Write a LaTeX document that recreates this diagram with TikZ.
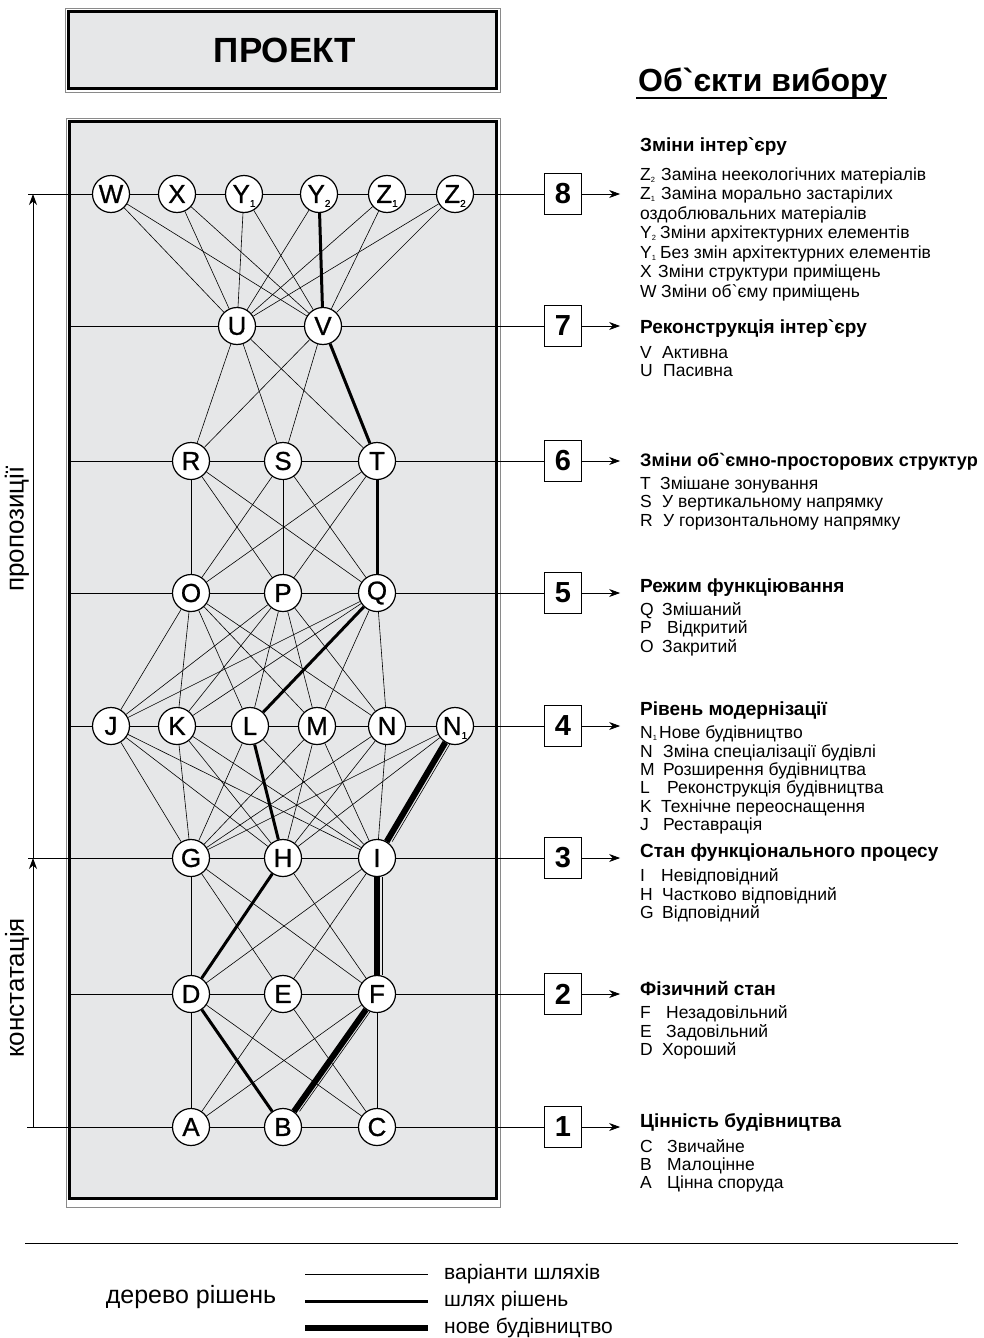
\documentclass[tikz,border=0pt]{standalone}
\usepackage{fontspec}
\newfontfamily\af{Liberation Sans}
\newfontfamily\afn{Liberation Sans}[FakeBold=0.8]
\usetikzlibrary{arrows.meta}
\pgfdeclarelayer{back}
\pgfdeclarelayer{edges}
\pgfsetlayers{back,edges,main}
\definecolor{panel}{HTML}{E6E7E8}
\definecolor{frameg}{HTML}{8A8A8A}
\newcommand\sbn[1]{\raisebox{-4pt}[0pt][0pt]{\fontsize{10}{10}\selectfont #1}}
\newcommand\sbi[1]{\raisebox{-2pt}[0pt][0pt]{\fontsize{7.5}{7.5}\selectfont #1}}
\begin{document}
\begin{tikzpicture}[x=1pt,y=-1pt,
  nd/.style={circle, draw, line width=1.2pt, fill=white, minimum size=37pt, inner sep=0pt, font=\afn\fontsize{26}{26}\selectfont},
  ed/.style={line width=0.6pt},
  rowl/.style={line width=0.7pt},
  pathl/.style={line width=3pt},
  newl/.style={line width=6pt},
  numbox/.style={draw, line width=1.2pt, fill=white, minimum width=37pt, minimum height=41pt, inner sep=0pt, font=\af\bfseries\fontsize{29}{29}\selectfont},
  hd/.style={anchor=base west, inner sep=0pt, font=\af\bfseries\fontsize{19}{19}\selectfont},
  it/.style={anchor=base west, inner sep=0pt, font=\af\fontsize{17.5}{17.5}\selectfont},
  arr/.style={-{Stealth[length=11pt,width=8pt]}, line width=0.8pt}
]
\useasboundingbox (0,0) rectangle (984,1338);

% frames
\begin{pgfonlayer}{back}
\draw[frameg, line width=0.8pt] (65,8) rectangle (500,92);
\draw[line width=3pt, fill=panel] (68.5,11.5) rectangle (496.5,88.5);
\draw[frameg, line width=0.8pt] (66,118) rectangle (500,1207);
\draw[line width=3pt, fill=panel] (69.5,121.5) rectangle (496.5,1198.5);
\end{pgfonlayer}

\node[font=\af\bfseries\fontsize{35}{35}\selectfont] (title) at (285,50) {ПРОЕКТ};
\node[anchor=base west, inner sep=0pt, font=\af\bfseries\fontsize{32}{32}\selectfont] (obj) at (638,92) {Об`єкти вибору};
\draw[line width=2.4pt] (obj.base west) ++(-2,6) coordinate (u1) -- (obj.base east |- u1);

% nodes
\node[nd] (W) at (111,194) {W};
\node[nd] (X) at (177,194) {X};
\node[nd] (Y1) at (244,194) {Y\sbn{1}};
\node[nd] (Y2) at (319,194) {Y\sbn{2}};
\node[nd] (Z1) at (387,194) {Z\sbn{1}};
\node[nd] (Z2) at (455,194) {Z\sbn{2}};
\node[nd] (U) at (237,326) {U};
\node[nd] (V) at (323,326) {V};
\node[nd] (R) at (191,461) {R};
\node[nd] (S) at (283,461) {S};
\node[nd] (T) at (377,461) {T};
\node[nd] (O) at (191,593) {O};
\node[nd] (P) at (283,593) {P};
\node[nd] (Q) at (377,593) {Q};
\node[nd] (J) at (111,726) {J};
\node[nd] (K) at (177,726) {K};
\node[nd] (L) at (250,726) {L};
\node[nd] (M) at (317,726) {M};
\node[nd] (N) at (387,726) {N};
\node[nd] (N1) at (455,726) {N\sbn{1}};
\node[nd] (G) at (191,858) {G};
\node[nd] (H) at (283,858) {H};
\node[nd] (I) at (377,858) {I};
\node[nd] (D) at (191,994) {D};
\node[nd] (E) at (283,994) {E};
\node[nd] (F) at (377,994) {F};
\node[nd] (A) at (191,1127) {A};
\node[nd] (B) at (283,1127) {B};
\node[nd] (C) at (377,1127) {C};

% number boxes
\node[numbox] (b8) at (563,194) {8};
\node[numbox] (b7) at (563,326) {7};
\node[numbox] (b6) at (563,461) {6};
\node[numbox] (b5) at (563,593) {5};
\node[numbox] (b4) at (563,726) {4};
\node[numbox] (b3) at (563,858) {3};
\node[numbox] (b2) at (563,994) {2};
\node[numbox] (b1) at (563,1127) {1};

\coordinate (r8) at (28,194);
\coordinate (r7) at (70,326);
\coordinate (r6) at (70,461);
\coordinate (r5) at (70,593);
\coordinate (r4) at (70,726);
\coordinate (r3) at (28,858);
\coordinate (r2) at (70,994);
\coordinate (r1) at (27,1127);
\coordinate (a8) at (33,194);
\coordinate (a3) at (33,858);
\coordinate (a1) at (33,1127);

\begin{pgfonlayer}{edges}
% row lines
\draw[rowl] (r8) -- (W) -- (X) -- (Y1) -- (Y2) -- (Z1) -- (Z2) -- (b8);
\draw[rowl] (r7) -- (U) -- (V) -- (b7);
\draw[rowl] (r6) -- (R) -- (S) -- (T) -- (b6);
\draw[rowl] (r5) -- (O) -- (P) -- (Q) -- (b5);
\draw[rowl] (r4) -- (J) -- (K) -- (L) -- (M) -- (N) -- (N1) -- (b4);
\draw[rowl] (r3) -- (G) -- (H) -- (I) -- (b3);
\draw[rowl] (r2) -- (D) -- (E) -- (F) -- (b2);
\draw[rowl] (r1) -- (A) -- (B) -- (C) -- (b1);
% edges
\foreach \a in {W,X,Y1,Y2,Z1,Z2}{\foreach \b in {U,V}{\draw[ed] (\a) -- (\b);}}
\foreach \a in {U,V}{\foreach \b in {R,S,T}{\draw[ed] (\a) -- (\b);}}
\foreach \a in {R,S,T}{\foreach \b in {O,P,Q}{\draw[ed] (\a) -- (\b);}}
\foreach \a in {O,P,Q}{\foreach \b in {J,K,L,M,N}{\draw[ed] (\a) -- (\b);}}
\foreach \a in {J,K,L,M,N,N1}{\foreach \b in {G,H,I}{\draw[ed] (\a) -- (\b);}}
\foreach \a/\b in {G/D,G/E,G/F,H/D,H/F,I/D,I/E,I/F,D/A,D/B,D/C,E/A,E/C,F/A,F/B,F/C}{\draw[ed] (\a) -- (\b);}
% decision path
\foreach \a/\b in {Y2/V,V/T,T/Q,Q/L,L/H,H/D,D/B}{\draw[pathl] (\a) -- (\b);}
% new construction
\foreach \a/\b in {N1/I,I/F,F/B}{\draw[newl] (\a) -- (\b); \draw[ed, transform canvas={xshift=5.5pt}] (\a) -- (\b);}
% left arrows
\draw[arr] (a1) -- (a3);
\draw[arr] (a3) -- (a8);
% box arrows
\foreach \k in {1,...,8}{\draw[arr] (b\k.east) -- ++(38,0);}
\end{pgfonlayer}

\node[rotate=90, font=\af\fontsize{26}{26}\selectfont] (prop) at (17,529) {пропозиції};
\node[rotate=90, font=\af\fontsize{26}{26}\selectfont] (kons) at (17,988) {констатація};

% right texts
\node[hd] at (640,151) {Зміни інтер`єру};
\node[it] at (640,180) {Z\sbi{2}}; \node[it] at (661,180) {Заміна неекологічних матеріалів};
\node[it] at (640,199.5) {Z\sbi{1}}; \node[it] at (661,199.5) {Заміна морально застарілих};
\node[it] at (640,219) {оздоблювальних матеріалів};
\node[it] at (640,238.5) {Y\sbi{2}}; \node[it] at (660,238.5) {Зміни архітектурних елементів};
\node[it] at (640,258) {Y\sbi{1}}; \node[it] at (660,258) {Без змін архітектурних елементів};
\node[it] at (640,277.5) {X}; \node[it] at (658,277.5) {Зміни структури приміщень};
\node[it] at (640,297) {W}; \node[it] at (661,297) {Зміни об`єму приміщень};

\node[hd] at (640,333) {Реконструкція інтер`єру};
\node[it] at (640,358) {V}; \node[it] at (662,358) {Активна};
\node[it] at (640,376) {U}; \node[it] at (663,376) {Пасивна};

\node[hd, font=\af\bfseries\fontsize{18.1}{18.1}\selectfont] at (640,466) {Зміни об`ємно-просторових структур};
\node[it] at (640,489) {T}; \node[it] at (660,489) {Змішане зонування};
\node[it] at (640,507) {S}; \node[it] at (662,507) {У вертикальному напрямку};
\node[it] at (640,526) {R}; \node[it] at (663,526) {У горизонтальному напрямку};

\node[hd] at (640,592) {Режим функціювання};
\node[it] at (640,615) {Q}; \node[it] at (662,615) {Змішаний};
\node[it] at (640,633.5) {P}; \node[it] at (667,633.5) {Відкритий};
\node[it] at (640,652) {O}; \node[it] at (662,652) {Закритий};

\node[hd] at (640,715) {Рівень модернізації};
\node[it] at (640,738) {N\sbi{1}}; \node[it] at (659,738) {Нове будівництво};
\node[it] at (640,757) {N}; \node[it] at (663,757) {Зміна спеціалізації будівлі};
\node[it] at (640,775) {M}; \node[it] at (663,775) {Розширення будівництва};
\node[it] at (640,793) {L}; \node[it] at (667,793) {Реконструкція будівництва};
\node[it] at (640,812) {K}; \node[it] at (661,812) {Технічне переоснащення};
\node[it] at (640,830) {J}; \node[it] at (663,830) {Реставрація};

\node[hd] at (640,857) {Стан функціонального процесу};
\node[it] at (640,881) {I}; \node[it] at (661,881) {Невідповідний};
\node[it] at (640,900) {H}; \node[it] at (662,900) {Частково відповідний};
\node[it] at (640,918) {G}; \node[it] at (662,918) {Відповідний};

\node[hd] at (640,995) {Фізичний стан};
\node[it] at (640,1018) {F}; \node[it] at (666,1018) {Незадовільний};
\node[it] at (640,1037) {E}; \node[it] at (666,1037) {Задовільний};
\node[it] at (640,1055) {D}; \node[it] at (662,1055) {Хороший};

\node[hd] at (640,1127) {Цінність будівництва};
\node[it] at (640,1152) {C}; \node[it] at (667,1152) {Звичайне};
\node[it] at (640,1170) {B}; \node[it] at (667,1170) {Малоцінне};
\node[it] at (640,1188) {A}; \node[it] at (667,1188) {Цінна споруда};

% legend
\coordinate (h1) at (25,1243);
\coordinate (h2) at (958,1243);
\draw[line width=0.9pt] (h1) -- (h2);
\node[anchor=base, inner sep=0pt, font=\af\fontsize{25}{25}\selectfont] (tree) at (191,1303) {дерево рішень};
\coordinate (l1a) at (305,1274); \coordinate (l1b) at (428,1274);
\coordinate (l2a) at (305,1301); \coordinate (l2b) at (428,1301);
\coordinate (l3a) at (305,1328); \coordinate (l3b) at (428,1328);
\draw[line width=0.8pt] (l1a) -- (l1b);
\draw[pathl] (l2a) -- (l2b);
\draw[newl] (l3a) -- (l3b);
\node[anchor=base west, inner sep=0pt, font=\af\fontsize{21}{21}\selectfont] (lg1) at (444,1279) {варіанти шляхів};
\node[anchor=base west, inner sep=0pt, font=\af\fontsize{21}{21}\selectfont] (lg2) at (444,1306) {шлях рішень};
\node[anchor=base west, inner sep=0pt, font=\af\fontsize{21}{21}\selectfont] (lg3) at (444,1333) {нове будівництво};
\end{tikzpicture}
\end{document}
